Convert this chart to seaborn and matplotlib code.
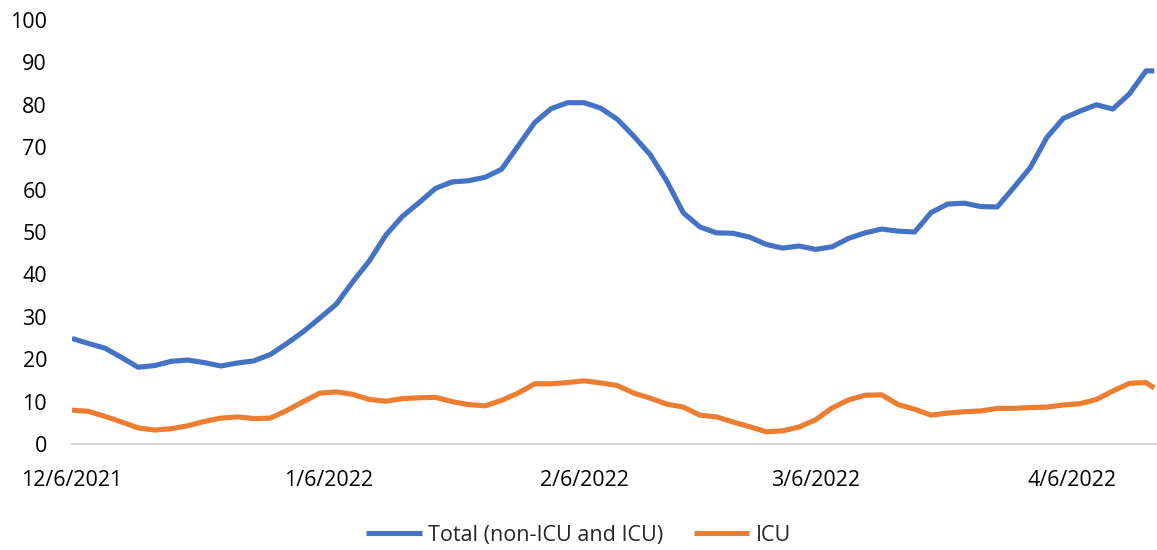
import pandas as pd
import matplotlib.pyplot as plt
import matplotlib.dates as mdates
import seaborn as sns

# Values, one every 2 days from 12/6/2021 (last point 4/16/2022)
day_offsets = list(range(0, 131, 2)) + [131]

total = [24.9, 23.7, 22.6, 20.4, 18.1, 18.5, 19.5, 19.8, 19.2, 18.4,
         19.1, 19.6, 21.1, 23.7, 26.5, 29.7, 33.0, 38.3, 43.2, 49.3,
         53.7, 56.9, 60.3, 61.8, 62.1, 62.9, 64.8, 70.3, 75.8, 79.1,
         80.5, 80.5, 79.2, 76.6, 72.6, 68.2, 62.0, 54.5, 51.2, 49.8,
         49.7, 48.8, 47.1, 46.2, 46.7, 45.9, 46.5, 48.5, 49.8, 50.7,
         50.2, 50.0, 54.6, 56.6, 56.8, 56.0, 55.9, 60.5, 65.2, 72.3,
         76.8, 78.5, 80.0, 79.0, 82.6, 88.0, 88.0]

icu = [8.0, 7.7, 6.5, 5.2, 3.8, 3.3, 3.6, 4.3, 5.3, 6.1,
       6.4, 6.0, 6.1, 7.9, 10.0, 12.0, 12.3, 11.7, 10.5, 10.1,
       10.7, 10.9, 11.0, 10.0, 9.3, 9.0, 10.3, 12.0, 14.2, 14.2,
       14.5, 14.9, 14.4, 13.8, 12.0, 10.8, 9.4, 8.7, 6.8, 6.4,
       5.2, 4.1, 2.9, 3.1, 4.0, 5.7, 8.5, 10.4, 11.5, 11.6,
       9.3, 8.2, 6.8, 7.3, 7.6, 7.8, 8.4, 8.4, 8.6, 8.7,
       9.2, 9.5, 10.5, 12.5, 14.3, 14.5, 13.2]

series_names = ['Total (non-ICU and ICU)', 'ICU']
colors = ['#4472C4', '#ED7D31']

tick_dates = ['2021-12-06', '2022-01-06', '2022-02-06', '2022-03-06', '2022-04-06']
tick_labels = ['12/6/2021', '1/6/2022', '2/6/2022', '3/6/2022', '4/6/2022']

start = pd.Timestamp('2021-12-06')
dates = [start + pd.Timedelta(days=d) for d in day_offsets]

df = pd.concat([
    pd.DataFrame({'date': dates, 'value': total, 'series': series_names[0]}),
    pd.DataFrame({'date': dates, 'value': icu, 'series': series_names[1]}),
])

sns.set_style('white')
plt.rcParams['font.family'] = ['Open Sans', 'DejaVu Sans']

fig = plt.figure(figsize=(11.57, 5.5), dpi=100)
ax = fig.add_axes([72 / 1157, 106 / 550, 1 - 72 / 1157, 424 / 550])

sns.lineplot(data=df, x='date', y='value', hue='series', palette=colors,
             linewidth=3.7, ax=ax, solid_capstyle='butt')

ax.set_ylim(0, 100)
ax.set_yticks(range(0, 101, 10))
ax.set_xlim(start, pd.Timestamp('2022-04-16') + pd.Timedelta(hours=8))
ax.set_xticks([mdates.date2num(pd.Timestamp(d)) for d in tick_dates])
ax.set_xticklabels(tick_labels)
ax.set_xlabel('')
ax.set_ylabel('')

for side in ['left', 'top', 'right']:
    ax.spines[side].set_visible(False)
ax.spines['bottom'].set_color('#d9d9d9')
ax.spines['bottom'].set_linewidth(1.5)
ax.tick_params(axis='x', length=7, width=1.5, color='#d9d9d9', pad=12,
               labelsize=15.5, labelcolor='black')
ax.tick_params(axis='y', length=0, pad=18, labelsize=15.5, labelcolor='black')

sns.move_legend(ax, 'center', bbox_to_anchor=(0.5, 0.027), bbox_transform=fig.transFigure,
                ncol=2, frameon=False, title=None, fontsize=15.5,
                handlelength=2.6, handletextpad=0.3, columnspacing=1.4)

fig.savefig('out.png', dpi=100)
